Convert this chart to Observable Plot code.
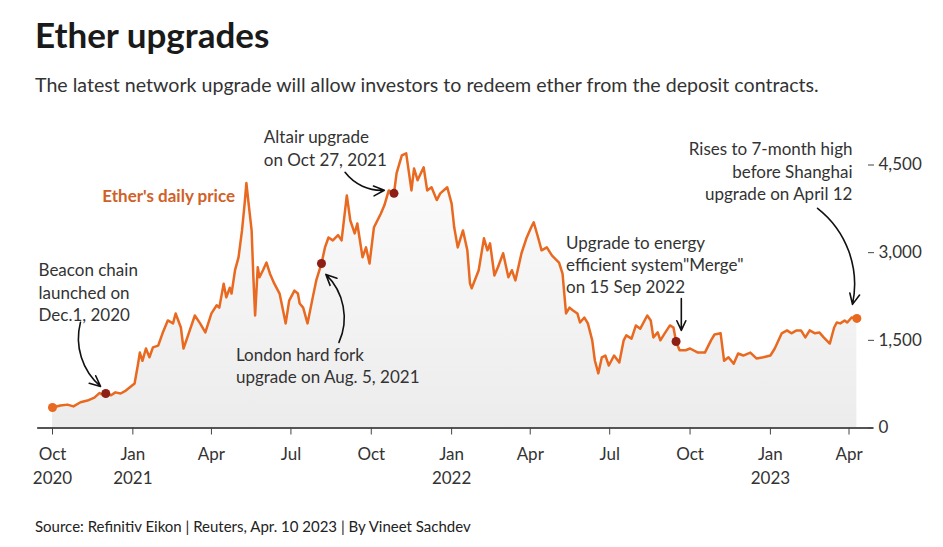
<!DOCTYPE html>
<html><head><meta charset="utf-8">
<script src="https://cdn.jsdelivr.net/npm/d3@7"></script>
<script src="https://cdn.jsdelivr.net/npm/@observablehq/plot@0.6"></script>
<style>
body{margin:0;background:#fff;font-family:Lato,sans-serif;}
#wrap{position:relative;width:943px;height:547px;overflow:hidden;background:#fff;}
#title{position:absolute;left:35px;top:17px;font-size:35px;font-weight:700;line-height:1;color:#1a1a1a;white-space:nowrap;}
#subtitle{position:absolute;left:35px;top:75px;font-size:19.6px;line-height:1;color:#333;white-space:nowrap;}
#chart{position:absolute;left:0;top:110px;}
#caption{position:absolute;left:35px;top:519px;font-size:15px;line-height:1;color:#222;white-space:nowrap;}
</style></head><body>
<div id="wrap">
<div id="title">Ether upgrades</div>
<div id="subtitle">The latest network upgrade will allow investors to redeem ether from the deposit contracts.</div>
<div id="chart"></div>
<div id="caption">Source: Refinitiv Eikon | Reuters, Apr. 10 2023 | By Vineet Sachdev</div>
</div>
<script>
// ---- data ----
const priceDates = [
"2020-10-01","2020-10-10","2020-10-18","2020-10-25","2020-11-02","2020-11-10","2020-11-18","2020-11-24","2020-11-28",
"2020-12-01","2020-12-07","2020-12-12","2020-12-18","2020-12-24","2020-12-29",
"2021-01-03","2021-01-07","2021-01-09","2021-01-12","2021-01-16","2021-01-20","2021-01-24","2021-01-30",
"2021-02-04","2021-02-10","2021-02-16","2021-02-19","2021-02-25","2021-02-28",
"2021-03-06","2021-03-13","2021-03-19","2021-03-25",
"2021-04-01","2021-04-07","2021-04-10","2021-04-15","2021-04-18","2021-04-22","2021-04-24","2021-04-28",
"2021-05-02","2021-05-06","2021-05-09","2021-05-11","2021-05-14","2021-05-17","2021-05-19","2021-05-21","2021-05-24","2021-05-26","2021-05-30",
"2021-06-03","2021-06-07","2021-06-12","2021-06-18","2021-06-22","2021-06-25","2021-06-29",
"2021-07-05","2021-07-09","2021-07-11","2021-07-15","2021-07-20","2021-07-26","2021-07-30",
"2021-08-05","2021-08-09","2021-08-13","2021-08-18","2021-08-24","2021-08-28",
"2021-09-03","2021-09-07","2021-09-12","2021-09-15","2021-09-21","2021-09-25","2021-09-29",
"2021-10-04","2021-10-12","2021-10-16","2021-10-21","2021-10-27","2021-10-30",
"2021-11-05","2021-11-10","2021-11-16","2021-11-19","2021-11-23","2021-11-30",
"2021-12-04","2021-12-09","2021-12-15","2021-12-19","2021-12-27",
"2022-01-01","2022-01-04","2022-01-08","2022-01-14","2022-01-19","2022-01-22","2022-01-24",
"2022-02-01","2022-02-07","2022-02-11","2022-02-14","2022-02-19","2022-02-23",
"2022-03-01","2022-03-07","2022-03-11","2022-03-15","2022-03-22","2022-03-28",
"2022-04-02","2022-04-05","2022-04-10","2022-04-14","2022-04-20","2022-04-26",
"2022-05-04","2022-05-08","2022-05-12","2022-05-16","2022-05-20","2022-05-25","2022-05-28",
"2022-06-02","2022-06-06","2022-06-11","2022-06-14","2022-06-18","2022-06-22","2022-06-26","2022-06-30",
"2022-07-06","2022-07-12","2022-07-17","2022-07-20","2022-07-26","2022-07-31",
"2022-08-05","2022-08-13","2022-08-17","2022-08-20","2022-08-25","2022-08-28",
"2022-09-02","2022-09-08","2022-09-12","2022-09-15","2022-09-19","2022-09-26",
"2022-10-01","2022-10-10","2022-10-18","2022-10-25","2022-10-29",
"2022-11-05","2022-11-09","2022-11-14","2022-11-20","2022-11-25",
"2022-12-01","2022-12-09","2022-12-16","2022-12-24",
"2023-01-01","2023-01-06","2023-01-14","2023-01-20","2023-01-25","2023-01-31",
"2023-02-05","2023-02-10","2023-02-15","2023-02-21","2023-02-26",
"2023-03-03","2023-03-10","2023-03-15","2023-03-18","2023-03-22","2023-03-27","2023-03-30",
"2023-04-04","2023-04-10"
];
const priceValues = [
350,385,400,370,440,470,520,600,560,
590,560,610,590,640,700,
760,1100,1290,1150,1360,1210,1380,1410,
1620,1840,1790,1960,1720,1360,
1620,1925,1790,1635,
1960,2100,2060,2470,2235,2400,2300,2700,
2920,3380,3840,4190,3780,3380,2580,1925,2750,2580,2700,
2830,2640,2470,2300,2010,1790,2180,
2350,2300,2130,2060,1790,2235,2525,
2815,3090,3260,3210,3300,3210,
3980,3550,3330,3500,2920,3090,2815,
3430,3670,3810,4065,4015,4360,
4665,4700,4065,4440,4240,4460,
4065,4120,3900,4015,4120,
3840,3430,3090,3380,3040,2475,2390,
2700,3245,3040,3160,2610,2750,
2990,2580,2700,2525,2990,3260,
3430,3520,3260,3040,3090,2950,
2830,2640,1960,2060,2010,1960,1805,
1890,1790,1500,1155,935,1210,1240,1070,
1240,1120,1500,1585,1530,1755,
1700,1925,1840,1550,1635,1500,
1620,1755,1720,1480,1330,1330,
1360,1290,1290,1500,1600,
1620,1150,1210,1100,1275,
1240,1290,1190,1210,
1240,1360,1620,1670,1620,1670,
1670,1550,1670,1620,1635,
1550,1445,1720,1805,1790,1840,1805,
1890,1875
];

const xTickDates = ["2020-10-01","2021-01-01","2021-04-01","2021-07-01","2021-10-01","2022-01-01","2022-04-01","2022-07-01","2022-10-01","2023-01-01","2023-04-01"];
const xTickLabels = ["Oct\n2020","Jan\n2021","Apr","Jul","Oct","Jan\n2022","Apr","Jul","Oct","Jan\n2023","Apr"];
const yTicks = [0, 1500, 3000, 4500];
const axisExtent = ["2020-09-14", "2023-04-29"];

const upgradeDates = ["2020-12-01", "2021-08-05", "2021-10-27", "2022-09-15"];

const noteDates  = ["2020-09-15", "2021-05-31", "2021-04-29", "2022-05-12"];
const noteValues = [2337, 4803, 1079, 2808];
const noteTexts  = ["Beacon chain\nlaunched on\nDec.1, 2020", "Altair upgrade\non Oct 27, 2021", "London hard fork\nupgrade on Aug. 5, 2021", "Upgrade to energy\nefficient system\"Merge\"\non 15 Sep 2022"];
const rightNoteDates  = ["2023-04-05"];
const rightNoteValues = [4409];
const rightNoteTexts  = ["Rises to 7-month high\nbefore Shanghai\nupgrade on April 12"];
const seriesLabelDate = ["2021-04-28"];
const seriesLabelValue = [3964];
const seriesLabelText = ["Ether's daily price"];

const arrowStartDates = ["2020-11-02", "2021-08-25", "2021-09-01", "2022-09-21", "2023-02-24"];
const arrowStartValues = [1807, 1464, 4375, 2217, 3759];
const arrowEndDates = ["2020-11-25", "2021-08-10", "2021-10-16", "2022-09-21", "2023-04-05"];
const arrowEndValues = [711, 2628, 4067, 1670, 2115];
const arrowBends = [-32, -35, -28, 0, 32];

// ---- tables built from the arrays ----
const prices = priceDates.map((d, i) => ({date: new Date(d), price: priceValues[i]}));
const byTime = new Map(prices.map(p => [+p.date, p]));
const upgrades = upgradeDates.map(d => byTime.get(+new Date(d)));
const ends = [prices[0], prices[prices.length - 1]];
const notes = noteDates.map((d, i) => ({date: new Date(d), value: noteValues[i], text: noteTexts[i]}));
const rightNotes = rightNoteDates.map((d, i) => ({date: new Date(d), value: rightNoteValues[i], text: rightNoteTexts[i]}));
const seriesLabel = seriesLabelDate.map((d, i) => ({date: new Date(d), value: seriesLabelValue[i], text: seriesLabelText[i]}));
const arrows = arrowStartDates.map((d, i) => ({
  x1: new Date(d), y1: arrowStartValues[i], x2: new Date(arrowEndDates[i]), y2: arrowEndValues[i], bend: arrowBends[i]
}));
const xTicks = xTickDates.map(d => new Date(d));
const tickLabel = new Map(xTickDates.map((d, i) => [+new Date(d), xTickLabels[i]]));
const baseline = [{y: 0, a: new Date(axisExtent[0]), b: new Date(axisExtent[1])}];

const orange = "#e8691f";
const darkRed = "#8e1f17";

const arrowMarks = arrows.map(a => Plot.arrow([a], {
  x1: "x1", y1: "y1", x2: "x2", y2: "y2", bend: a.bend,
  stroke: "#111", strokeWidth: 1.6, headLength: 11, headAngle: 50
}));

const chart = Plot.plot({
  width: 943,
  height: 390,
  marginTop: 54.5,
  marginBottom: 72.5,
  marginLeft: 37,
  marginRight: 76,
  x: {type: "utc", domain: [new Date("2020-10-01"), new Date("2023-04-01")], range: [52, 848.5]},
  y: {domain: [0, 4500]},
  style: {fontFamily: "Lato, sans-serif", fontSize: "16px", color: "#333", background: "#fff", overflow: "visible"},
  marks: [
    Plot.areaY(prices, {x: "date", y: "price", fill: "url(#etherGrad)"}),
    Plot.ruleY(baseline, {y: "y", x1: "a", x2: "b", stroke: "#555", strokeWidth: 2}),
    Plot.axisX({ticks: xTicks, tickFormat: d => tickLabel.get(+d), tickSize: 7, tickPadding: 8, fontSize: 17, lineHeight: 1.4, stroke: "#444", fill: "#333", label: null}),
    Plot.axisY({anchor: "right", ticks: yTicks, tickFormat: d3.format(","), tickSize: 6, tickPadding: 5, fontSize: 17, stroke: "#444", fill: "#333", label: null}),
    Plot.lineY(prices, {x: "date", y: "price", stroke: orange, strokeWidth: 2.5, strokeLinejoin: "round"}),
    Plot.dot(ends, {x: "date", y: "price", r: 4.5, fill: orange}),
    Plot.dot(upgrades, {x: "date", y: "price", r: 4.5, fill: darkRed}),
    Plot.text(notes, {x: "date", y: "value", text: "text", textAnchor: "start", lineAnchor: "middle", lineHeight: 1.32, fontSize: 17, fill: "#333"}),
    Plot.text(rightNotes, {x: "date", y: "value", text: "text", textAnchor: "end", lineAnchor: "middle", lineHeight: 1.32, fontSize: 17, fill: "#333"}),
    Plot.text(seriesLabel, {x: "date", y: "value", text: "text", textAnchor: "end", lineAnchor: "middle", fontSize: 17, fontWeight: "bold", fill: "#d06128"}),
    ...arrowMarks
  ]
});

const defs = d3.select(chart).insert("defs", ":first-child");
const grad = defs.append("linearGradient").attr("id", "etherGrad").attr("x1", 0).attr("y1", 0).attr("x2", 0).attr("y2", 1);
grad.append("stop").attr("offset", "0%").attr("stop-color", "#fcfcfc");
grad.append("stop").attr("offset", "100%").attr("stop-color", "#ececec");

document.getElementById("chart").appendChild(chart);
</script>
</body></html>
